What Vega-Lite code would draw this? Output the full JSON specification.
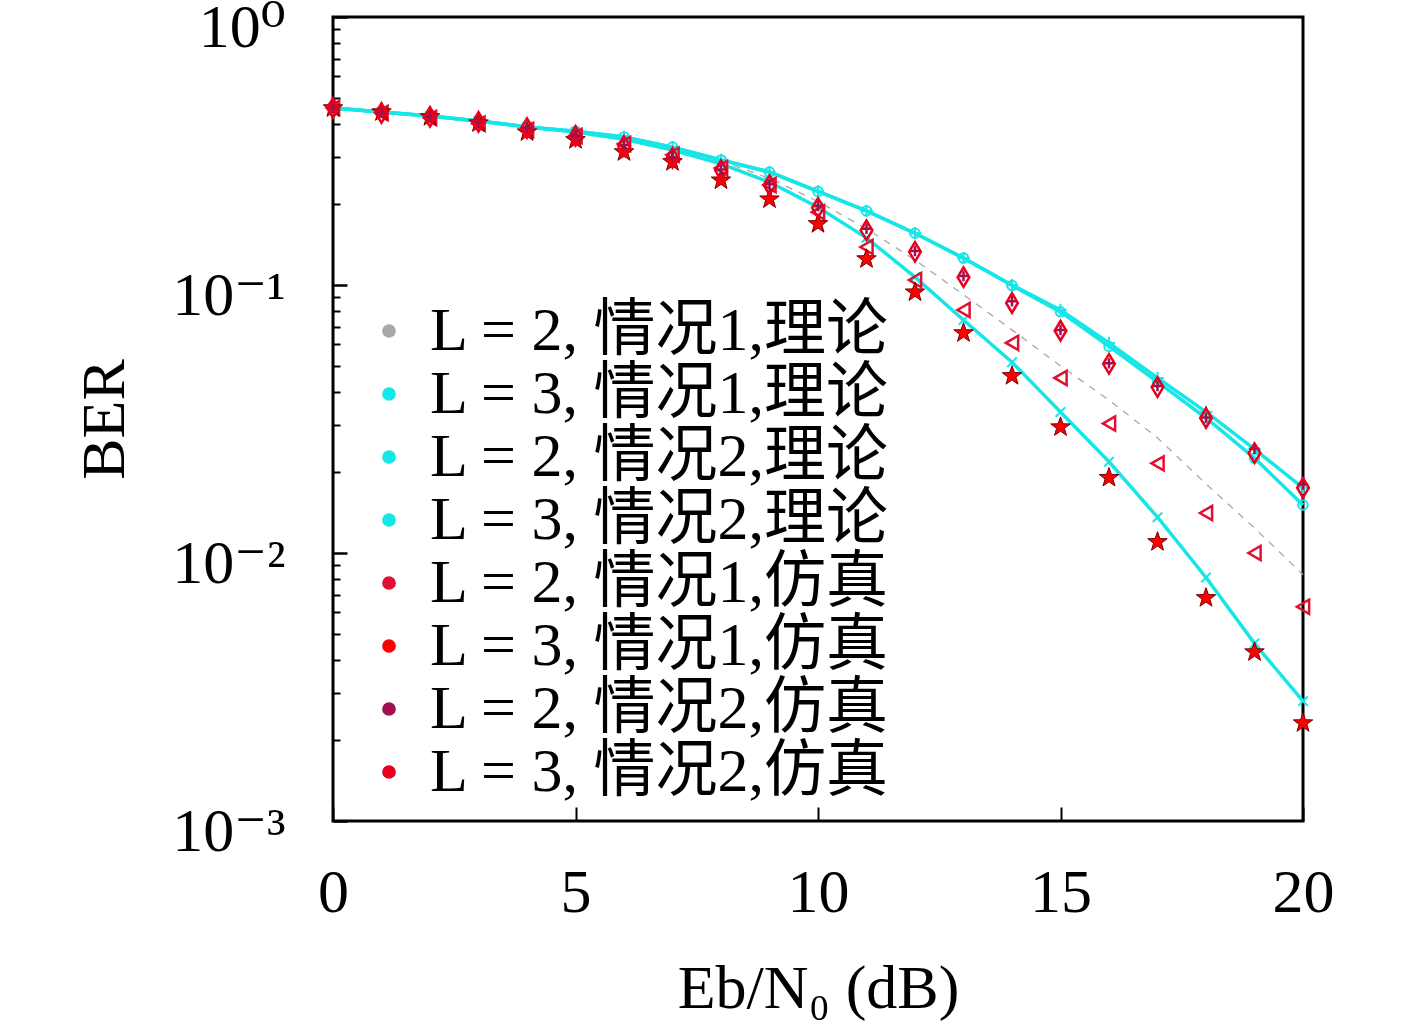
{
  "$schema": "https://vega.github.io/schema/vega-lite/v6.json",
  "width": 970,
  "height": 804,
  "autosize": "none",
  "padding": {"left": 333, "top": 17, "right": 114, "bottom": 209},
  "background": "white",
  "config": {
    "view": {"stroke": "black", "strokeWidth": 3},
    "font": "Liberation Serif, DejaVu Serif, Noto Sans CJK SC",
    "axis": {
      "labelFont": "Liberation Serif, DejaVu Serif",
      "titleFont": "Liberation Serif, DejaVu Serif",
      "labelColor": "black",
      "titleColor": "black",
      "tickColor": "black",
      "grid": false,
      "titleFontWeight": "normal",
      "labelOverlap": false
    }
  },
  "data": {
    "values": [
      {"series": "L=2, 情况1,理论", "x": 0, "ber": 0.4575}, {"series": "L=2, 情况1,理论", "x": 1, "ber": 0.442}, {"series": "L=2, 情况1,理论", "x": 2, "ber": 0.427}, {"series": "L=2, 情况1,理论", "x": 3, "ber": 0.409}, {"series": "L=2, 情况1,理论", "x": 4, "ber": 0.389}, {"series": "L=2, 情况1,理论", "x": 5, "ber": 0.373}, {"series": "L=2, 情况1,理论", "x": 6, "ber": 0.353}, {"series": "L=2, 情况1,理论", "x": 7, "ber": 0.324}, {"series": "L=2, 情况1,理论", "x": 8, "ber": 0.29}, {"series": "L=2, 情况1,理论", "x": 9, "ber": 0.25}, {"series": "L=2, 情况1,理论", "x": 10, "ber": 0.205}, {"series": "L=2, 情况1,理论", "x": 11, "ber": 0.162}, {"series": "L=2, 情况1,理论", "x": 12, "ber": 0.124}, {"series": "L=2, 情况1,理论", "x": 13, "ber": 0.092}, {"series": "L=2, 情况1,理论", "x": 14, "ber": 0.068}, {"series": "L=2, 情况1,理论", "x": 15, "ber": 0.0499}, {"series": "L=2, 情况1,理论", "x": 16, "ber": 0.0372}, {"series": "L=2, 情况1,理论", "x": 17, "ber": 0.0269}, {"series": "L=2, 情况1,理论", "x": 18, "ber": 0.0181}, {"series": "L=2, 情况1,理论", "x": 19, "ber": 0.0124}, {"series": "L=2, 情况1,理论", "x": 20, "ber": 0.0083},
      {"series": "L=3, 情况1,理论", "x": 0, "ber": 0.4575}, {"series": "L=3, 情况1,理论", "x": 1, "ber": 0.442}, {"series": "L=3, 情况1,理论", "x": 2, "ber": 0.427}, {"series": "L=3, 情况1,理论", "x": 3, "ber": 0.409}, {"series": "L=3, 情况1,理论", "x": 4, "ber": 0.389}, {"series": "L=3, 情况1,理论", "x": 5, "ber": 0.372}, {"series": "L=3, 情况1,理论", "x": 6, "ber": 0.35}, {"series": "L=3, 情况1,理论", "x": 7, "ber": 0.319}, {"series": "L=3, 情况1,理论", "x": 8, "ber": 0.283}, {"series": "L=3, 情况1,理论", "x": 9, "ber": 0.242}, {"series": "L=3, 情况1,理论", "x": 10, "ber": 0.195}, {"series": "L=3, 情况1,理论", "x": 11, "ber": 0.15}, {"series": "L=3, 情况1,理论", "x": 12, "ber": 0.107}, {"series": "L=3, 情况1,理论", "x": 13, "ber": 0.074}, {"series": "L=3, 情况1,理论", "x": 14, "ber": 0.0515}, {"series": "L=3, 情况1,理论", "x": 15, "ber": 0.0336}, {"series": "L=3, 情况1,理论", "x": 16, "ber": 0.0219}, {"series": "L=3, 情况1,理论", "x": 17, "ber": 0.0136}, {"series": "L=3, 情况1,理论", "x": 18, "ber": 0.0081}, {"series": "L=3, 情况1,理论", "x": 19, "ber": 0.0046}, {"series": "L=3, 情况1,理论", "x": 20, "ber": 0.0028},
      {"series": "L=2, 情况2,理论", "x": 0, "ber": 0.4575}, {"series": "L=2, 情况2,理论", "x": 1, "ber": 0.442}, {"series": "L=2, 情况2,理论", "x": 2, "ber": 0.427}, {"series": "L=2, 情况2,理论", "x": 3, "ber": 0.409}, {"series": "L=2, 情况2,理论", "x": 4, "ber": 0.389}, {"series": "L=2, 情况2,理论", "x": 5, "ber": 0.375}, {"series": "L=2, 情况2,理论", "x": 6, "ber": 0.357}, {"series": "L=2, 情况2,理论", "x": 7, "ber": 0.327}, {"series": "L=2, 情况2,理论", "x": 8, "ber": 0.293}, {"series": "L=2, 情况2,理论", "x": 9, "ber": 0.264}, {"series": "L=2, 情况2,理论", "x": 10, "ber": 0.2235}, {"series": "L=2, 情况2,理论", "x": 11, "ber": 0.189}, {"series": "L=2, 情况2,理论", "x": 12, "ber": 0.156}, {"series": "L=2, 情况2,理论", "x": 13, "ber": 0.126}, {"series": "L=2, 情况2,理论", "x": 14, "ber": 0.1}, {"series": "L=2, 情况2,理论", "x": 15, "ber": 0.0807}, {"series": "L=2, 情况2,理论", "x": 16, "ber": 0.0608}, {"series": "L=2, 情况2,理论", "x": 17, "ber": 0.045}, {"series": "L=2, 情况2,理论", "x": 18, "ber": 0.0336}, {"series": "L=2, 情况2,理论", "x": 19, "ber": 0.0244}, {"series": "L=2, 情况2,理论", "x": 20, "ber": 0.0175},
      {"series": "L=3, 情况2,理论", "x": 0, "ber": 0.4575}, {"series": "L=3, 情况2,理论", "x": 1, "ber": 0.442}, {"series": "L=3, 情况2,理论", "x": 2, "ber": 0.427}, {"series": "L=3, 情况2,理论", "x": 3, "ber": 0.409}, {"series": "L=3, 情况2,理论", "x": 4, "ber": 0.389}, {"series": "L=3, 情况2,理论", "x": 5, "ber": 0.375}, {"series": "L=3, 情况2,理论", "x": 6, "ber": 0.357}, {"series": "L=3, 情况2,理论", "x": 7, "ber": 0.327}, {"series": "L=3, 情况2,理论", "x": 8, "ber": 0.293}, {"series": "L=3, 情况2,理论", "x": 9, "ber": 0.264}, {"series": "L=3, 情况2,理论", "x": 10, "ber": 0.2235}, {"series": "L=3, 情况2,理论", "x": 11, "ber": 0.189}, {"series": "L=3, 情况2,理论", "x": 12, "ber": 0.156}, {"series": "L=3, 情况2,理论", "x": 13, "ber": 0.126}, {"series": "L=3, 情况2,理论", "x": 14, "ber": 0.0995}, {"series": "L=3, 情况2,理论", "x": 15, "ber": 0.0794}, {"series": "L=3, 情况2,理论", "x": 16, "ber": 0.059}, {"series": "L=3, 情况2,理论", "x": 17, "ber": 0.0435}, {"series": "L=3, 情况2,理论", "x": 18, "ber": 0.0319}, {"series": "L=3, 情况2,理论", "x": 19, "ber": 0.0226}, {"series": "L=3, 情况2,理论", "x": 20, "ber": 0.0151},
      {"series": "L=2, 情况1,仿真", "x": 0, "ber": 0.4575}, {"series": "L=2, 情况1,仿真", "x": 1, "ber": 0.438}, {"series": "L=2, 情况1,仿真", "x": 2, "ber": 0.42}, {"series": "L=2, 情况1,仿真", "x": 3, "ber": 0.4}, {"series": "L=2, 情况1,仿真", "x": 4, "ber": 0.379}, {"series": "L=2, 情况1,仿真", "x": 5, "ber": 0.36}, {"series": "L=2, 情况1,仿真", "x": 6, "ber": 0.336}, {"series": "L=2, 情况1,仿真", "x": 7, "ber": 0.306}, {"series": "L=2, 情况1,仿真", "x": 8, "ber": 0.273}, {"series": "L=2, 情况1,仿真", "x": 9, "ber": 0.236}, {"series": "L=2, 情况1,仿真", "x": 10, "ber": 0.187}, {"series": "L=2, 情况1,仿真", "x": 11, "ber": 0.1386}, {"series": "L=2, 情况1,仿真", "x": 12, "ber": 0.1044}, {"series": "L=2, 情况1,仿真", "x": 13, "ber": 0.0807}, {"series": "L=2, 情况1,仿真", "x": 14, "ber": 0.0608}, {"series": "L=2, 情况1,仿真", "x": 15, "ber": 0.045}, {"series": "L=2, 情况1,仿真", "x": 16, "ber": 0.0304}, {"series": "L=2, 情况1,仿真", "x": 17, "ber": 0.0216}, {"series": "L=2, 情况1,仿真", "x": 18, "ber": 0.0141}, {"series": "L=2, 情况1,仿真", "x": 19, "ber": 0.01}, {"series": "L=2, 情况1,仿真", "x": 20, "ber": 0.0063},
      {"series": "L=3, 情况1,仿真", "x": 0, "ber": 0.4575}, {"series": "L=3, 情况1,仿真", "x": 1, "ber": 0.442}, {"series": "L=3, 情况1,仿真", "x": 2, "ber": 0.424}, {"series": "L=3, 情况1,仿真", "x": 3, "ber": 0.402}, {"series": "L=3, 情况1,仿真", "x": 4, "ber": 0.372}, {"series": "L=3, 情况1,仿真", "x": 5, "ber": 0.348}, {"series": "L=3, 情况1,仿真", "x": 6, "ber": 0.3135}, {"series": "L=3, 情况1,仿真", "x": 7, "ber": 0.288}, {"series": "L=3, 情况1,仿真", "x": 8, "ber": 0.246}, {"series": "L=3, 情况1,仿真", "x": 9, "ber": 0.209}, {"series": "L=3, 情况1,仿真", "x": 10, "ber": 0.169}, {"series": "L=3, 情况1,仿真", "x": 11, "ber": 0.125}, {"series": "L=3, 情况1,仿真", "x": 12, "ber": 0.094}, {"series": "L=3, 情况1,仿真", "x": 13, "ber": 0.0662}, {"series": "L=3, 情况1,仿真", "x": 14, "ber": 0.0458}, {"series": "L=3, 情况1,仿真", "x": 15, "ber": 0.0295}, {"series": "L=3, 情况1,仿真", "x": 16, "ber": 0.0191}, {"series": "L=3, 情况1,仿真", "x": 17, "ber": 0.011}, {"series": "L=3, 情况1,仿真", "x": 18, "ber": 0.0068}, {"series": "L=3, 情况1,仿真", "x": 19, "ber": 0.00427}, {"series": "L=3, 情况1,仿真", "x": 20, "ber": 0.00232},
      {"series": "L=2, 情况2,仿真", "x": 0, "ber": 0.46}, {"series": "L=2, 情况2,仿真", "x": 1, "ber": 0.44}, {"series": "L=2, 情况2,仿真", "x": 2, "ber": 0.425}, {"series": "L=2, 情况2,仿真", "x": 3, "ber": 0.405}, {"series": "L=2, 情况2,仿真", "x": 4, "ber": 0.386}, {"series": "L=2, 情况2,仿真", "x": 5, "ber": 0.362}, {"series": "L=2, 情况2,仿真", "x": 6, "ber": 0.333}, {"series": "L=2, 情况2,仿真", "x": 7, "ber": 0.3}, {"series": "L=2, 情况2,仿真", "x": 8, "ber": 0.27}, {"series": "L=2, 情况2,仿真", "x": 9, "ber": 0.238}, {"series": "L=2, 情况2,仿真", "x": 10, "ber": 0.197}, {"series": "L=2, 情况2,仿真", "x": 11, "ber": 0.162}, {"series": "L=2, 情况2,仿真", "x": 12, "ber": 0.134}, {"series": "L=2, 情况2,仿真", "x": 13, "ber": 0.108}, {"series": "L=2, 情况2,仿真", "x": 14, "ber": 0.087}, {"series": "L=2, 情况2,仿真", "x": 15, "ber": 0.068}, {"series": "L=2, 情况2,仿真", "x": 16, "ber": 0.051}, {"series": "L=2, 情况2,仿真", "x": 17, "ber": 0.042}, {"series": "L=2, 情况2,仿真", "x": 18, "ber": 0.032}, {"series": "L=2, 情况2,仿真", "x": 19, "ber": 0.0245}, {"series": "L=2, 情况2,仿真", "x": 20, "ber": 0.018},
      {"series": "L=3, 情况2,仿真", "x": 0, "ber": 0.4575}, {"series": "L=3, 情况2,仿真", "x": 1, "ber": 0.438}, {"series": "L=3, 情况2,仿真", "x": 2, "ber": 0.424}, {"series": "L=3, 情况2,仿真", "x": 3, "ber": 0.406}, {"series": "L=3, 情况2,仿真", "x": 4, "ber": 0.385}, {"series": "L=3, 情况2,仿真", "x": 5, "ber": 0.36}, {"series": "L=3, 情况2,仿真", "x": 6, "ber": 0.33}, {"series": "L=3, 情况2,仿真", "x": 7, "ber": 0.298}, {"series": "L=3, 情况2,仿真", "x": 8, "ber": 0.268}, {"series": "L=3, 情况2,仿真", "x": 9, "ber": 0.236}, {"series": "L=3, 情况2,仿真", "x": 10, "ber": 0.194}, {"series": "L=3, 情况2,仿真", "x": 11, "ber": 0.16}, {"series": "L=3, 情况2,仿真", "x": 12, "ber": 0.133}, {"series": "L=3, 情况2,仿真", "x": 13, "ber": 0.107}, {"series": "L=3, 情况2,仿真", "x": 14, "ber": 0.0857}, {"series": "L=3, 情况2,仿真", "x": 15, "ber": 0.0675}, {"series": "L=3, 情况2,仿真", "x": 16, "ber": 0.0508}, {"series": "L=3, 情况2,仿真", "x": 17, "ber": 0.0416}, {"series": "L=3, 情况2,仿真", "x": 18, "ber": 0.0319}, {"series": "L=3, 情况2,仿真", "x": 19, "ber": 0.0236}, {"series": "L=3, 情况2,仿真", "x": 20, "ber": 0.0175}
    ]
  },
  "encoding": {
    "x": {
      "field": "x",
      "type": "quantitative",
      "scale": {"domain": [0, 20], "nice": false, "zero": false},
      "axis": {
        "orient": "bottom",
        "values": [0, 5, 10, 15, 20],
        "tickSize": -14,
        "tickWidth": 2,
        "domain": false,
        "labelFlush": false,
        "labelFontSize": 62,
        "labelPadding": 55,
        "title": "Eb/N₀ (dB)",
        "titleFontSize": 62,
        "titlePadding": 35
      }
    },
    "y": {
      "field": "ber",
      "type": "quantitative",
      "scale": {"type": "log", "domain": [0.001, 1], "nice": false},
      "axis": null
    },
    "color": {
      "field": "series",
      "type": "nominal",
      "scale": {
        "domain": ["L=2, 情况1,理论", "L=3, 情况1,理论", "L=2, 情况2,理论", "L=3, 情况2,理论", "L=2, 情况1,仿真", "L=3, 情况1,仿真", "L=2, 情况2,仿真", "L=3, 情况2,仿真"],
        "range": ["#a8a8a8", "#17e6e6", "#17e6e6", "#17e6e6", "#e01030", "#ff0000", "#a01050", "#e8001c"]
      },
      "legend": {
        "title": null,
        "orient": "none",
        "legendX": 25,
        "legendY": 283,
        "padding": 0,
        "labelFont": "Liberation Serif, Noto Sans CJK SC",
        "labelFontSize": 62,
        "labelColor": "black",
        "labelLimit": 0,
        "labelOffset": 10,
        "labelExpr": "replace(datum.label, '=', ' = ')",
        "rowPadding": 1,
        "symbolSize": 150
      }
    }
  },
  "layer": [
    {
      "transform": [{"filter": "datum.series === 'L=2, 情况1,理论'"}],
      "mark": {"type": "line", "strokeWidth": 1.3, "strokeDash": [7, 7]},
      "encoding": {
        "y": {
          "field": "ber",
          "type": "quantitative",
          "scale": {"type": "log", "domain": [0.001, 1], "nice": false},
          "axis": {
            "orient": "left",
            "values": [1, 0.1, 0.01, 0.001],
            "tickSize": -14,
            "tickWidth": 2.5,
            "domain": false,
            "labelExpr": "datum.value > 0.5 ? '10⁰' : datum.value > 0.05 ? '10⁻¹' : datum.value > 0.005 ? '10⁻²' : '10⁻³'",
            "labelFontSize": 62,
            "labelPadding": 62,
            "labelOffset": 10,
            "title": "BER",
            "titleFontSize": 62,
            "titlePadding": 35
          }
        }
      }
    },
    {
      "transform": [{"filter": "indexof(['L=3, 情况1,理论', 'L=2, 情况2,理论', 'L=3, 情况2,理论'], datum.series) >= 0"}],
      "mark": {"type": "line", "strokeWidth": 3.5},
      "encoding": {
        "y": {
          "field": "ber",
          "type": "quantitative",
          "scale": {"type": "log", "domain": [0.001, 1], "nice": false},
          "axis": {
            "orient": "left",
            "values": [0.9, 0.8, 0.7, 0.6, 0.5, 0.4, 0.3, 0.2, 0.09, 0.08, 0.07, 0.06, 0.05, 0.04, 0.03, 0.02, 0.009, 0.008, 0.007, 0.006, 0.005, 0.004, 0.003, 0.002],
            "tickSize": -7,
            "tickWidth": 2,
            "labels": false,
            "domain": false,
            "title": null
          }
        }
      }
    },
    {
      "transform": [{"filter": "datum.series === 'L=3, 情况1,理论'"}],
      "mark": {"type": "point", "shape": "M-1,-1L1,1M-1,1L1,-1", "size": 90, "strokeWidth": 2, "filled": false, "opacity": 1}
    },
    {
      "transform": [{"filter": "datum.series === 'L=2, 情况2,理论'"}],
      "mark": {"type": "point", "shape": "M-1,0L1,0M0,-1L0,1", "size": 150, "strokeWidth": 2, "filled": false, "opacity": 1}
    },
    {
      "transform": [{"filter": "datum.series === 'L=3, 情况2,理论'"}],
      "mark": {"type": "point", "shape": "circle", "size": 90, "strokeWidth": 2, "filled": false, "opacity": 1}
    },
    {
      "transform": [{"filter": "datum.series === 'L=2, 情况1,仿真'"}],
      "mark": {"type": "point", "shape": "triangle-left", "size": 200, "strokeWidth": 2.5, "filled": false, "opacity": 1}
    },
    {
      "transform": [{"filter": "datum.series === 'L=3, 情况1,仿真'"}],
      "mark": {"type": "point", "shape": "M0,-1L0.235,-0.324L0.951,-0.309L0.38,0.124L0.588,0.809L0,0.4L-0.588,0.809L-0.38,0.124L-0.951,-0.309L-0.235,-0.324Z", "size": 420, "strokeWidth": 1, "stroke": "#7a0000", "filled": true, "opacity": 1}
    },
    {
      "transform": [{"filter": "datum.series === 'L=2, 情况2,仿真'"}],
      "mark": {"type": "point", "shape": "M-1,0L1,0M0,-1L0,1", "size": 110, "strokeWidth": 2.5, "filled": false, "opacity": 1}
    },
    {
      "transform": [{"filter": "datum.series === 'L=3, 情况2,仿真'"}],
      "mark": {"type": "point", "shape": "M0,-1L0.6,0L0,1L-0.6,0Z", "size": 380, "strokeWidth": 2.5, "filled": false, "opacity": 1}
    }
  ],
  "resolve": {"axis": {"y": "independent"}}
}
